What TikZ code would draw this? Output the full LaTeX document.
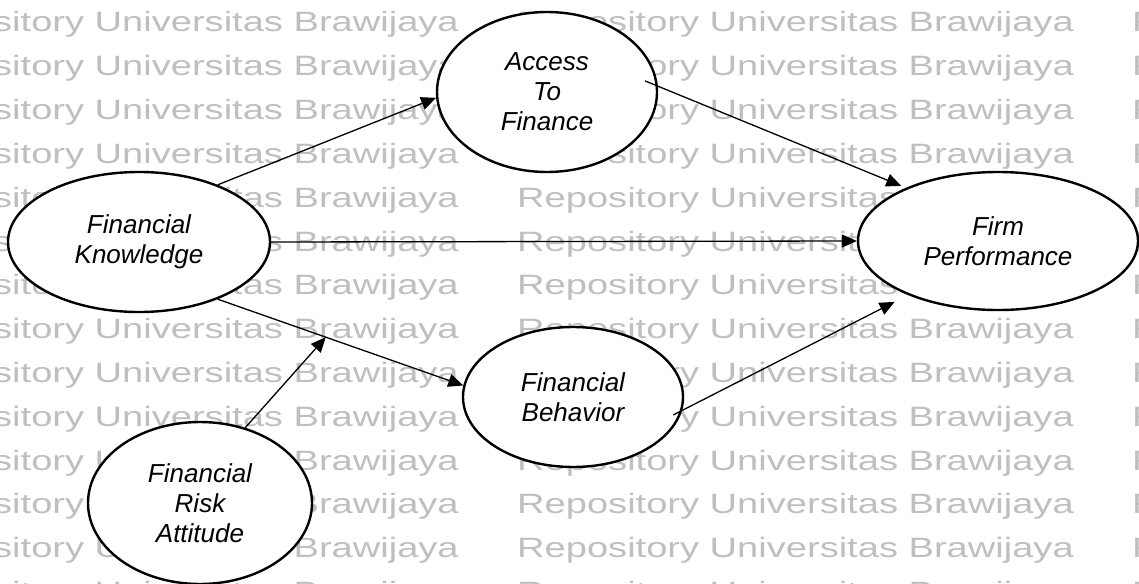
\documentclass[tikz,border=0pt]{standalone}
\usepackage{fontspec}
\setmainfont{Liberation Sans}
\usetikzlibrary{shapes.geometric,arrows.meta}
\begin{document}
\begin{tikzpicture}[x=1pt,y=-1pt,
  construct/.style={ellipse,draw,line width=2.4pt,fill=white,inner sep=0pt,
    align=center,font=\fontsize{26}{30}\selectfont\itshape},
  link/.style={-{Triangle[length=15pt,width=13pt]},line width=1.3pt},
  wm/.style={anchor=base west,inner sep=0pt,text=black!25}
]
\useasboundingbox (0,0) rectangle (1139,583);

% background watermark rows
\begin{scope}
  \clip (0,0) rectangle (1139,583);
  \foreach \r in {0,...,13}{
    \foreach \c [count=\ci] in {-98,517,1132}{
      \node[wm] (wm\r-\ci) at (\c, 32+43.8*\r)
        {\scalebox{1.36}[1]{\fontsize{28}{28}\selectfont Repository Universitas Brawijaya}};
    }
  }
\end{scope}

% constructs
\node[construct,minimum width=262pt,minimum height=140pt] (fk)  at (139,242) {Financial\\Knowledge};
\node[construct,minimum width=220pt,minimum height=160pt] (atf) at (547,92)  {Access\\To\\Finance};
\node[construct,minimum width=280pt,minimum height=138pt] (fp)  at (998,241) {Firm\\Performance};
\node[construct,minimum width=220pt,minimum height=140pt] (fb)  at (573,397) {Financial\\Behavior};
\node[construct,minimum width=224pt,minimum height=162pt] (fra) at (200,503) {Financial\\Risk\\Attitude};

% paths
\draw[link] (fk.36) -- (atf.183);
\draw[link,shorten <=-14pt,shorten >=5pt] (atf.3) -- (fp.150);
\draw[link] (fk.east) -- (fp.west);
\draw[link] (fk.-36) -- coordinate[pos=0.44] (join) (fb.174);
\draw[link] (fra.59) -- (join);
\draw[link,shorten <=-10pt,shorten >=15pt] (fb.-7) -- (fp.211);
\end{tikzpicture}
\end{document}
